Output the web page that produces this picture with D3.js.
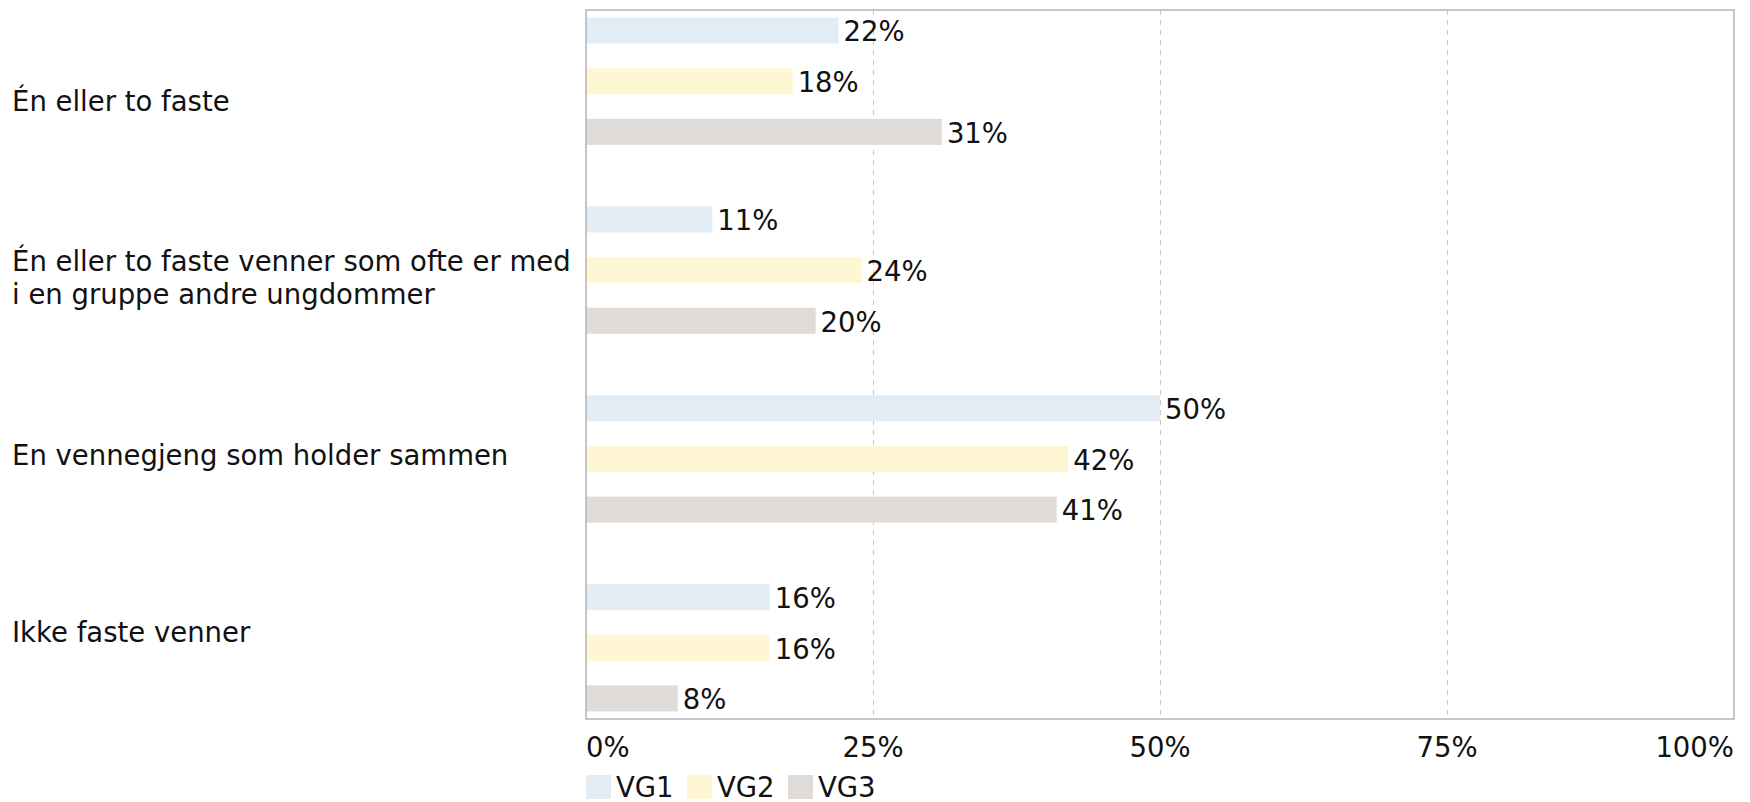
<!DOCTYPE html>
<html>
<head>
<meta charset="utf-8">
<script src="https://cdn.jsdelivr.net/npm/d3@7"></script>
<style>
	body { margin: 0; background: #fff; }
	svg text { font-family: "DejaVu Sans", Verdana, sans-serif; fill: #111; }
	.grid line { stroke: #c8c8c8; stroke-dasharray: 5,5; }
</style>
</head>
<body>
<div id="chart"></div>
<script>
// categories, top to bottom
var categories = [
	["Én eller to faste"],
	["Én eller to faste venner som ofte er med", "i en gruppe andre ungdommer"],
	["En vennegjeng som holder sammen"],
	["Ikke faste venner"]
];
var seriesNames = ["VG1", "VG2", "VG3"];
var seriesColors = ["#e2ecf5", "#fff6d3", "#dedbd8"];
var vg1 = [22, 11, 50, 16];
var vg2 = [18, 24, 42, 16];
var vg3 = [31, 20, 41, 8];
var xTicks = [0, 25, 50, 75, 100];

var W = 1750, H = 802;
var plot = {left: 586, top: 10, right: 1734, bottom: 719};
var fontSize = 27.5;

var series = [vg1, vg2, vg3];
var catIdx = d3.range(categories.length);

var svg = d3.select("#chart").append("svg")
	.attr("width", W)
	.attr("height", H);

var x = d3.scaleLinear().domain([0, 100]).range([plot.left, plot.right]);

// labels sit in equal slices of the plot height
var yLab = d3.scaleBand().domain(catIdx).range([plot.top, plot.bottom]);

// bar groups
var y0 = d3.scaleBand().domain(catIdx).range([plot.top, plot.bottom])
	.paddingInner(0.326).paddingOuter(0.04);
var y1 = d3.scaleBand().domain(d3.range(series.length)).range([0, y0.bandwidth()])
	.paddingInner(0.487).paddingOuter(0);

// dashed grid
svg.append("g").attr("class", "grid")
	.selectAll("line")
	.data(xTicks.slice(1, -1))
	.enter().append("line")
	.attr("x1", function(d){ return x(d) + 0.5; })
	.attr("x2", function(d){ return x(d) + 0.5; })
	.attr("y1", plot.top)
	.attr("y2", plot.bottom);

// bars
var groups = svg.selectAll(".cat")
	.data(catIdx)
	.enter().append("g")
	.attr("class", "cat")
	.attr("transform", function(c){ return "translate(0," + y0(c) + ")"; });

groups.selectAll("rect")
	.data(function(c){ return series.map(function(s, i){ return {s: i, v: s[c]}; }); })
	.enter().append("rect")
	.attr("x", x(0))
	.attr("y", function(d){ return y1(d.s); })
	.attr("width", function(d){ return x(d.v) - x(0); })
	.attr("height", y1.bandwidth())
	.attr("fill", function(d){ return seriesColors[d.s]; });

groups.selectAll("text")
	.data(function(c){ return series.map(function(s, i){ return {s: i, v: s[c]}; }); })
	.enter().append("text")
	.attr("x", function(d){ return x(d.v) + 5; })
	.attr("y", function(d){ return y1(d.s) + y1.bandwidth() / 2 + 1; })
	.attr("dy", "0.36em")
	.style("font-size", fontSize + "px")
	.text(function(d){ return d.v + "%"; });

// frame
svg.append("rect")
	.attr("x", plot.left)
	.attr("y", plot.top)
	.attr("width", plot.right - plot.left)
	.attr("height", plot.bottom - plot.top)
	.attr("fill", "none")
	.attr("stroke", "#b4b4b4")
	.attr("stroke-width", 1.5);

// category labels
var lineH = 33;
svg.selectAll(".catlabel")
	.data(catIdx)
	.enter().append("text")
	.attr("class", "catlabel")
	.style("font-size", fontSize + "px")
	.each(function(c){
		var lines = categories[c];
		var cy = yLab(c) + yLab.bandwidth() / 2 + 2 - (lines.length - 1) * lineH / 2;
		var t = d3.select(this);
		lines.forEach(function(l, i){
			t.append("tspan")
				.attr("x", 12)
				.attr("y", cy + i * lineH)
				.attr("dy", "0.36em")
				.text(l);
		});
	});

// x tick labels
svg.selectAll(".xtick")
	.data(xTicks)
	.enter().append("text")
	.attr("class", "xtick")
	.attr("x", function(d){ return x(d); })
	.attr("y", 747)
	.attr("dy", "0.36em")
	.attr("text-anchor", function(d, i){
		return i === 0 ? "start" : (i === xTicks.length - 1 ? "end" : "middle");
	})
	.style("font-size", fontSize + "px")
	.text(function(d){ return d + "%"; });

// legend
var legend = svg.selectAll(".legend")
	.data(seriesNames)
	.enter().append("g")
	.attr("class", "legend")
	.attr("transform", function(d, i){ return "translate(" + (plot.left + i * 101) + ",775)"; });

legend.append("rect")
	.attr("width", 25)
	.attr("height", 24)
	.attr("fill", function(d, i){ return seriesColors[i]; });

legend.append("text")
	.attr("x", 30)
	.attr("y", 12)
	.attr("dy", "0.36em")
	.style("font-size", fontSize + "px")
	.text(function(d){ return d; });
</script>
</body>
</html>
